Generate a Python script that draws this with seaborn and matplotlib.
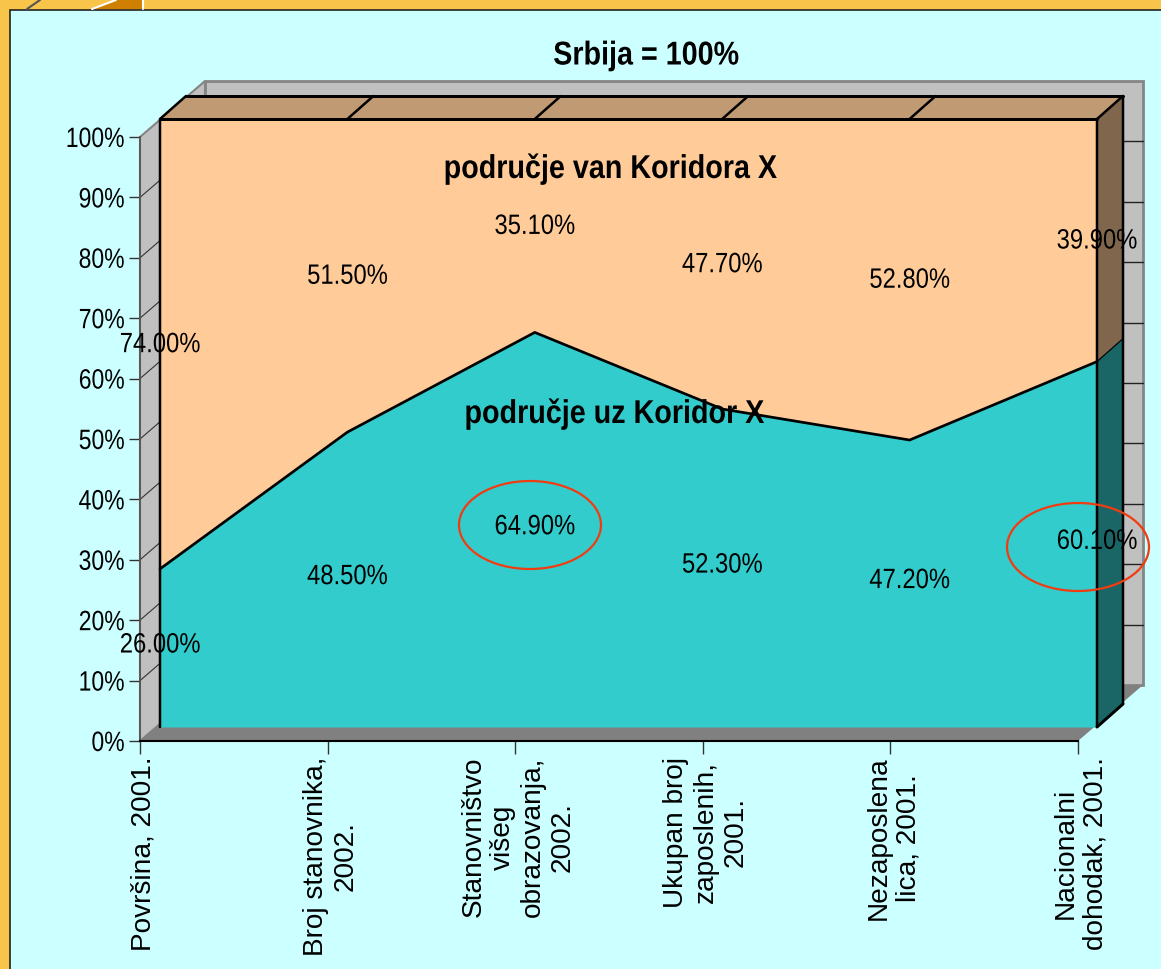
import matplotlib
matplotlib.use("Agg")
import matplotlib.pyplot as plt
from matplotlib.patches import Polygon, Ellipse, Rectangle, Wedge
from matplotlib.patheffects import AbstractPathEffect
from matplotlib.transforms import IdentityTransform, Affine2D
import pandas as pd
import seaborn as sns

categories = ["Površina, 2001.", "Broj stanovnika,\n2002.", "Stanovništvo\nvišeg\nobrazovanja,\n2002.",
              "Ukupan broj\nzaposlenih,\n2001.", "Nezaposlena\nlica, 2001.", "Nacionalni\ndohodak, 2001."]
uz_koridor = [26.0, 48.5, 64.9, 52.3, 47.2, 60.1]
van_koridora = [74.0, 51.5, 35.1, 47.7, 52.8, 39.9]
yticks = [0, 10, 20, 30, 40, 50, 60, 70, 80, 90, 100]
title = "Srbija = 100%"
name_van = "područje van Koridora X"
name_uz = "područje uz Koridor X"

W, H = 1161, 969
sns.set_theme(style="white")
plt.rcParams["font.family"] = ["Liberation Sans", "DejaVu Sans"]
PX = 72 / 100


class Condense(AbstractPathEffect):
    """Squeeze a text's glyphs horizontally, as the reference's narrow face does."""
    def __init__(self, sx, anchor="center"):
        super().__init__()
        self.sx, self.anchor = sx, anchor

    def draw_path(self, renderer, gc, tpath, affine, rgbFace=None):
        e = tpath.get_extents(affine)
        cx = e.x1 if self.anchor == "right" else (e.x0 + e.x1) / 2
        squeezed = affine + Affine2D().translate(-cx, 0).scale(self.sx, 1).translate(cx, 0)
        renderer.draw_path(gc, tpath, squeezed, rgbFace)


df = pd.DataFrame({"pos": range(6), "uz": uz_koridor, "van": van_koridora})
df["total"] = df["uz"] + df["van"]

fig = plt.figure(figsize=(W / 100, H / 100), dpi=100, facecolor="#F8C44A")


def box(x0, top, x1, bottom, **kw):
    return fig.add_axes([x0 / W, 1 - bottom / H, (x1 - x0) / W, (bottom - top) / H], **kw)


# chrome in pixel coordinates
bg = box(0, 0, W, H, zorder=0)
bg.set_xlim(0, W); bg.set_ylim(H, 0); bg.axis("off")
bg.add_patch(Polygon([(92, 9), (116, 0), (143, 0), (143, 9)], fc="#D08000", ec="none"))
bg.plot([143, 143], [0, 9], color="white", lw=1.5)
bg.plot([92, 116], [9, 0], color="white", lw=1.5)
bg.plot([27, 40], [9, 0], color="#555555", lw=1.5)
bg.add_patch(Rectangle((10, 9.5), W, H, fc="#CCFFFF", ec="#222222", lw=1.2))
WALL = "#C0C0C0"; EDGE = "#858585"
bg.add_patch(Polygon([(205, 81), (1143, 81), (1143, 685), (205, 685)], fc=WALL, ec=EDGE, lw=2))
bg.add_patch(Polygon([(140, 137), (205, 81), (205, 685), (140, 741)], fc=WALL, ec=EDGE, lw=1.5))
bg.add_patch(Polygon([(140, 741), (205, 685), (1143, 685), (1078, 741)], fc="#808080", ec="none"))
for k in range(1, 10):
    y = 741 - 60.4 * k
    bg.plot([140, 205], [y, y - 56], color="#333333", lw=0.8)
    bg.plot([205, 1143], [y - 56, y - 56], color="#222222", lw=1)

# axis plane with the real ticks
axa = box(140, 137, 1078, 741, zorder=1)
axa.patch.set_alpha(0)
axa.set_xlim(0, 5); axa.set_ylim(0, 100)
axa.set_yticks(yticks, [f"{v}%" for v in yticks])
axa.set_xticks(range(6))
axa.set_xticklabels(categories, rotation=90, ha="center", va="top", multialignment="center",
                    fontsize=28 * PX, linespacing=1.18)
axa.tick_params(axis="y", left=True, length=11 * PX, width=1, color="#333333", labelsize=28 * PX, pad=3, labelcolor="black")
axa.tick_params(axis="x", bottom=True, length=13 * PX, width=1, color="#333333", pad=2, labelcolor="black")
for lab in axa.get_yticklabels():
    lab.set_path_effects([Condense(0.82, "right")])
for lab in axa.get_xticklabels():
    lab.set_transform(lab.get_transform() + Affine2D().translate(3, 0))
for s in ("top", "right"):
    axa.spines[s].set_visible(False)
axa.spines["left"].set_color("#555555"); axa.spines["left"].set_linewidth(1.3)
axa.spines["bottom"].set_color("black"); axa.spines["bottom"].set_linewidth(1.5)

# front plane of the areas
ax = box(160, 119, 1097, 727, zorder=2)
ax.set_xlim(0, 5); ax.set_ylim(0, 100); ax.axis("off")
PEACH, TEAL = "#FFCC99", "#33CCCC"
ax.fill_between(df["pos"], df["uz"], df["total"], color=PEACH, lw=0)
ax.fill_between(df["pos"], 0, df["uz"], color=TEAL, lw=0)

DX, DY = 26, 23


def front(x, y):
    return tuple(ax.transData.transform((x, y)))


def back(x, y):
    p = front(x, y)
    return (p[0] + DX, p[1] + DY)


def poly(pts, fc):
    ax.add_patch(Polygon(pts, closed=True, fc=fc, ec="none", transform=IdentityTransform(), clip_on=False, zorder=1.5))


def seg(p, q, lw=2.0):
    ax.plot([p[0], q[0]], [p[1], q[1]], color="black", lw=lw * PX, transform=IdentityTransform(), clip_on=False,
            zorder=3, solid_capstyle="round")


last = df["pos"].iloc[-1]; top = 100; end = uz_koridor[-1]
poly([front(0, top), back(0, top), back(last, top), front(last, top)], "#C09A72")
poly([front(last, end), back(last, end), back(last, top), front(last, top)], "#80664D")
poly([front(last, 0), back(last, 0), back(last, end), front(last, end)], "#1A6666")
seg(front(0, top), front(last, top), 3)
seg(back(0, top), back(last, top), 3)
for i in range(6):
    seg(front(i, top), back(i, top), 2.5)
seg(front(0, 0), front(0, top), 2.5)
seg(front(last, 0), front(last, top), 2.5)
seg(back(last, 0), back(last, top), 2.5)
seg(front(last, 0), back(last, 0), 3)
seg(front(last, end), back(last, end), 1.2)

sns.lineplot(data=df, x="pos", y="uz", color="black", lw=2.7 * PX, ax=ax, clip_on=False, zorder=3, legend=False)
ax.set_xlim(0, 5); ax.set_ylim(0, 100)

LAB = 28 * PX
for i, (u, v) in enumerate(zip(uz_koridor, van_koridora)):
    ax.text(i, u / 2 + 0.4, f"{u:.2f}%", ha="center", va="center", fontsize=LAB, color="black", clip_on=False,
            zorder=5, path_effects=[Condense(0.85)])
    ax.text(i, u + v / 2 - 0.2, f"{v:.2f}%", ha="center", va="center", fontsize=LAB, color="black", clip_on=False,
            zorder=5, path_effects=[Condense(0.85)])

# overlay for titles and rings
top_ax = box(0, 0, W, H, zorder=5)
top_ax.set_xlim(0, W); top_ax.set_ylim(H, 0); top_ax.axis("off"); top_ax.patch.set_alpha(0)
for tx, ty, s in ((646, 56, title), (610, 169, name_van), (614, 414, name_uz)):
    top_ax.text(tx, ty, s, ha="center", va="center", fontsize=33 * PX, fontweight="bold", color="black",
                path_effects=[Condense(0.87)])
for cx, cy in ((530, 525), (1078, 547)):
    top_ax.add_patch(Ellipse((cx, cy), 142, 88, fc="none", ec="#F03C10", lw=1.6))

fig.savefig("out.png", dpi=100, facecolor=fig.get_facecolor())
